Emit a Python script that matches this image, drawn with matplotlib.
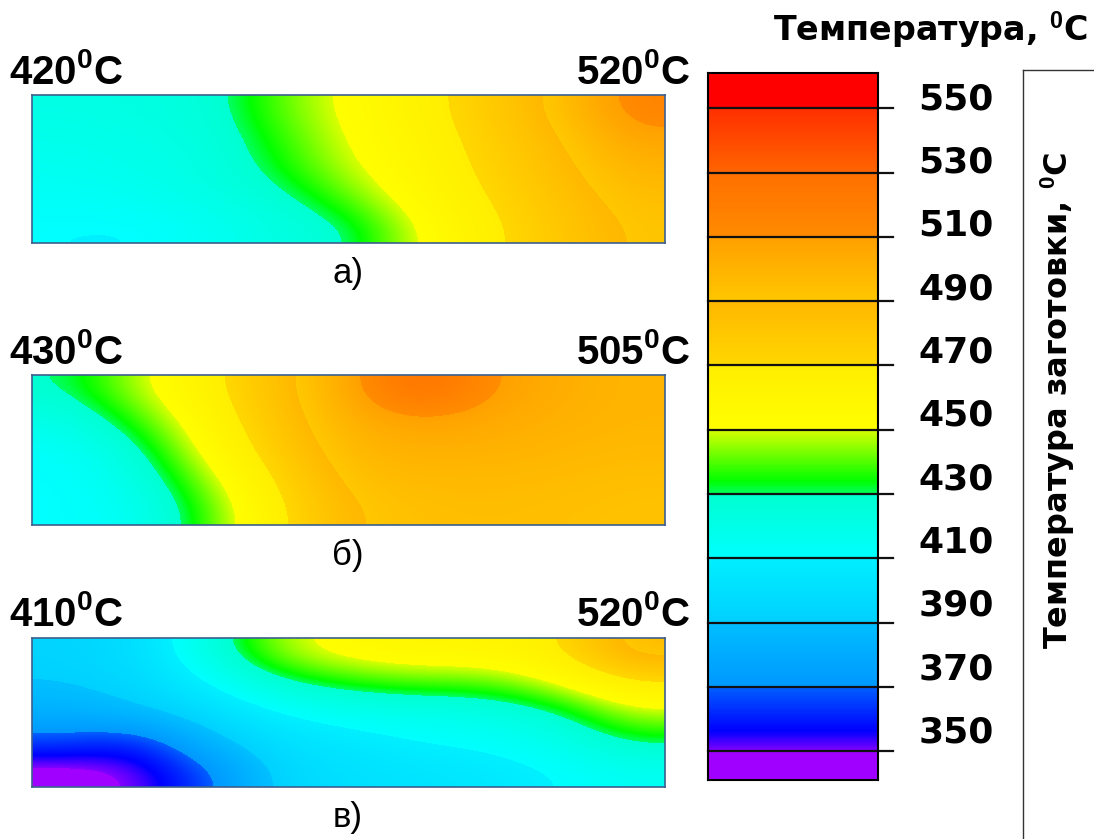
import numpy as np
import matplotlib
matplotlib.use('Agg')
import matplotlib.pyplot as plt
from matplotlib.colors import LinearSegmentedColormap, Normalize
from matplotlib.lines import Line2D

plt.rcParams['font.family'] = ['Liberation Sans', 'DejaVu Sans']
plt.rcParams['mathtext.fontset'] = 'custom'
plt.rcParams['mathtext.rm'] = 'Liberation Sans:bold'
plt.rcParams['mathtext.default'] = 'rm'

# temperature fields, rows top->bottom, columns left->right (deg C)
temp_a = [[421, 422, 425, 440, 453, 464, 478, 493, 516],
          [418, 420, 423, 436, 451, 462, 475, 489, 507],
          [416, 418, 422, 433, 448, 460, 473, 486, 500],
          [413, 415, 420, 426, 440, 457, 470, 483, 495],
          [410, 409, 415, 422, 428, 451, 467, 480, 492]]
temp_b = [[429, 447, 465, 485, 505, 532, 510, 503, 499],
          [420, 437, 460, 482, 502, 508, 505, 501, 499],
          [412, 426, 455, 478, 498, 502, 501, 499, 497],
          [410, 420, 445, 472, 494, 497, 497, 496, 494],
          [410, 415, 438, 467, 490, 494, 495, 494, 493]]
temp_c = [[393, 398, 422, 446, 456, 460, 460, 468, 497],
          [390, 395, 410, 428, 436, 440, 440, 452, 470],
          [383, 388, 398, 410, 416, 418, 420, 428, 448],
          [365, 358, 385, 400, 405, 410, 412, 418, 431],
          [345, 350, 365, 395, 400, 403, 405, 410, 415]]

panel_tags = ['а)', 'б)', 'в)']
left_labels = ['420$^{0}$C', '430$^{0}$C', '410$^{0}$C']
right_labels = ['520$^{0}$C', '505$^{0}$C', '520$^{0}$C']

cbar_ticks = [350, 370, 390, 410, 430, 450, 470, 490, 510, 530, 550]
t_min, t_max = 341, 561

# colour scale anchors (value, colour)
cmap_vals = [341, 349.9, 350, 356, 369.9, 370, 389.9, 390, 409.9, 410, 429.9, 430, 434,
             449.9, 450, 469.9, 470, 489.9, 490, 509.9, 510, 529.9, 530, 549.9, 550, 561]
cmap_cols = ['#a000ff', '#a000ff', '#8000ff', '#0000ff', '#0060ff', '#0098ff', '#00c0ff',
             '#00d0ff', '#00f0ff', '#00ffff', '#00ffd0', '#00ff60', '#00ff00', '#d8ff00',
             '#ffff00', '#ffee00', '#ffd800', '#ffb800', '#ffc800', '#ffa000', '#ff8c00',
             '#ff7000', '#ff6600', '#ff3000', '#ff0000', '#ff0000']

pos = [(v - t_min) / (t_max - t_min) for v in cmap_vals]
cmap = LinearSegmentedColormap.from_list('temp', list(zip(pos, cmap_cols)), N=1024)
norm = Normalize(t_min, t_max)

W, H = 1094, 839
fig = plt.figure(figsize=(W / 100, H / 100), dpi=100)

def fx(x):
    return x / W

def fy(y):
    return 1 - y / H

panels = [(temp_a, 95, 243), (temp_b, 375, 525), (temp_c, 638, 787)]
for i, (field, y0, y1) in enumerate(panels):
    ax = fig.add_axes([fx(32), fy(y1), fx(665) - fx(32), fy(y0) - fy(y1)])
    ax.imshow(np.array(field, dtype=float), cmap=cmap, norm=norm, aspect='auto',
              interpolation='bicubic', interpolation_stage='data')
    ax.set_xticks([])
    ax.set_yticks([])
    for s in ax.spines.values():
        s.set_color('#3c5f8c')
        s.set_linewidth(1.2)
    fig.text(fx(9), fy(y0 - 23), left_labels[i], fontsize=29, fontweight='bold',
             ha='left', va='center')
    fig.text(fx(690), fy(y0 - 23), right_labels[i], fontsize=29, fontweight='bold',
             ha='right', va='center')
    fig.text(fx(348), fy(y1 + 30), panel_tags[i], fontsize=25, ha='center', va='center')

# colour bar
cax = fig.add_axes([fx(708), fy(780), fx(878) - fx(708), fy(73) - fy(780)])
grad = np.linspace(t_min, t_max, 800).reshape(-1, 1)
cax.imshow(grad, cmap=cmap, norm=norm, aspect='auto', origin='lower',
           extent=[0, 1, t_min, t_max], interpolation='nearest')
cax.set_xlim(0, 1)
cax.set_ylim(t_min, t_max)
cax.set_xticks([])
cax.set_yticks([])
for s in cax.spines.values():
    s.set_linewidth(1.5)
for v in cbar_ticks:
    cax.plot([0, 1.09], [v, v], color='#111111', lw=1.6, clip_on=False)
    cax.text(1.46, v + 2.8 + (550 - v) * 0.015, str(v), fontsize=26, fontweight='bold',
             family='DejaVu Sans', ha='center', va='center')

fig.text(fx(1088), fy(30), 'Температура, $^{0}$C', fontsize=24, fontweight='bold',
         family='DejaVu Sans', ha='right', va='center')
fig.text(fx(1058), fy(400), 'Температура заготовки, $^{0}$C', fontsize=23,
         fontweight='bold', family='DejaVu Sans', rotation=90, ha='center', va='center')

fig.add_artist(Line2D([fx(1023), fx(1023)], [fy(70), 0], color='#333333', lw=1))
fig.add_artist(Line2D([fx(1023), 1], [fy(70), fy(70)], color='#333333', lw=1))

fig.savefig('out.png', dpi=100)
